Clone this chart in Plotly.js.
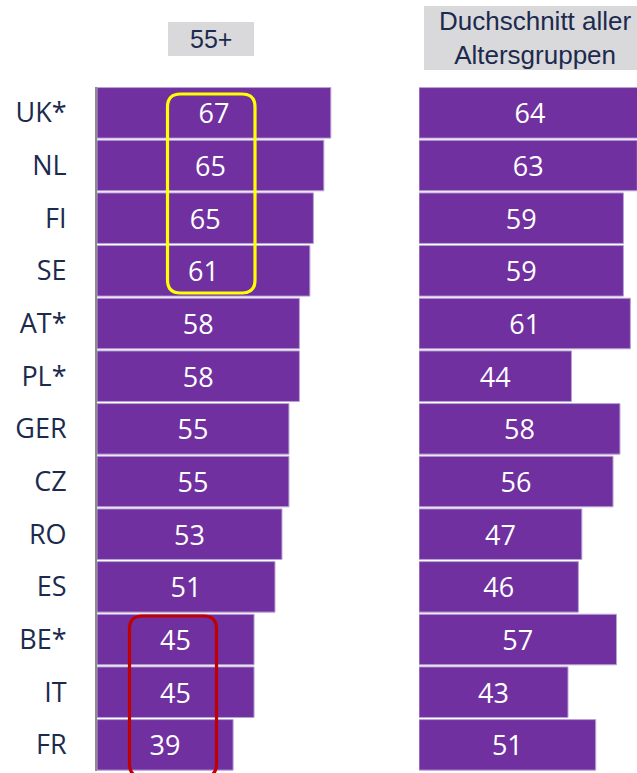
<!DOCTYPE html>
<html>
<head>
<meta charset="utf-8">
<script src="https://cdn.plot.ly/plotly-3.0.1.min.js"></script>
<style>
html, body { margin: 0; padding: 0; background: #ffffff; }
#chart { width: 637px; height: 773px; }
</style>
</head>
<body>
<div id="chart"></div>
<script>
// ---- data ----
const categories = ['UK*', 'NL', 'FI', 'SE', 'AT*', 'PL*', 'GER', 'CZ', 'RO', 'ES', 'BE*', 'IT', 'FR'];
// bar lengths as drawn in the reference (55+)
const values55 = [67, 65, 62, 61, 58, 58, 55, 55, 53, 51, 45, 45, 39];
// value labels printed in the bars (55+)
const labels55 = ['67', '65', '65', '61', '58', '58', '55', '55', '53', '51', '45', '45', '39'];
// average of all age groups
const valuesAll = [64, 63, 59, 59, 61, 44, 58, 56, 47, 46, 57, 43, 51];
const labelsAll = ['64', '63', '59', '59', '61', '44', '58', '56', '47', '46', '57', '43', '51'];
const header55 = '55+';
const headerAll = 'Duchschnitt aller<br>Altersgruppen';

// ---- layout helpers ----
const W = 637, H = 773;
const fx = px => px / W;
const fy = py => 1 - py / H;
function roundRect(x0, y0, x1, y1, r) {
  const P = (x, y) => fx(x) + ',' + fy(y);
  return 'M' + P(x0 + r, y0) + ' L' + P(x1 - r, y0) + ' Q' + P(x1, y0) + ' ' + P(x1, y0 + r) +
    ' L' + P(x1, y1 - r) + ' Q' + P(x1, y1) + ' ' + P(x1 - r, y1) +
    ' L' + P(x0 + r, y1) + ' Q' + P(x0, y1) + ' ' + P(x0, y1 - r) +
    ' L' + P(x0, y0 + r) + ' Q' + P(x0, y0) + ' ' + P(x0 + r, y0) + ' Z';
}

const purple = '#7030A0';
const navy = '#1C2A4E';
const barFont = { family: 'Open Sans, sans-serif', size: 27, color: '#ffffff' };

const trace55 = {
  type: 'bar', orientation: 'h',
  x: values55, y: categories, text: labels55,
  texttemplate: '%{text}',
  textposition: 'inside', insidetextanchor: 'middle', textangle: 0,
  constraintext: 'none',
  insidetextfont: barFont,
  marker: { color: purple, line: { color: '#B9A3D3', width: 1 } },
  xaxis: 'x', yaxis: 'y', hoverinfo: 'skip'
};
const traceAll = {
  type: 'bar', orientation: 'h',
  x: valuesAll, y: categories, text: labelsAll,
  texttemplate: '%{text}',
  textposition: 'inside', insidetextanchor: 'middle', textangle: 0,
  constraintext: 'none',
  insidetextfont: barFont,
  marker: { color: purple, line: { color: '#B9A3D3', width: 1 } },
  xaxis: 'x2', yaxis: 'y', hoverinfo: 'skip'
};

const layout = {
  width: W, height: H,
  margin: { l: 0, r: 0, t: 0, b: 0, pad: 0 },
  paper_bgcolor: '#ffffff', plot_bgcolor: 'rgba(0,0,0,0)',
  showlegend: false,
  bargap: 0.04,
  xaxis: {
    domain: [fx(97), fx(97 + 3.49 * 70)], range: [0, 70],
    visible: false, fixedrange: true
  },
  xaxis2: {
    domain: [fx(419), 1], range: [0, (637 - 419) / 3.465],
    visible: false, fixedrange: true, anchor: 'y'
  },
  yaxis: {
    domain: [fy(771.2), fy(86.5)],
    type: 'category', categoryorder: 'array', categoryarray: categories,
    range: [12.5, -0.5],
    showgrid: false, zeroline: false,
    showline: true, linecolor: '#8C8C8C', linewidth: 2,
    ticks: 'outside', ticklen: 23, tickcolor: 'rgba(0,0,0,0)',
    tickfont: { family: 'Open Sans, sans-serif', size: 27, color: navy },
    automargin: false, fixedrange: true
  },
  shapes: [
    { type: 'rect', xref: 'paper', yref: 'paper', x0: fx(168), x1: fx(254), y0: fy(56), y1: fy(22),
      fillcolor: '#D9D9DB', line: { width: 0 }, layer: 'below' },
    { type: 'rect', xref: 'paper', yref: 'paper', x0: fx(424), x1: fx(650), y0: fy(70), y1: fy(6),
      fillcolor: '#D9D9DB', line: { width: 0 }, layer: 'below' },
    { type: 'path', xref: 'paper', yref: 'paper', path: roundRect(167.5, 94, 255, 293, 13),
      line: { color: '#FFFF00', width: 3.2 }, fillcolor: 'rgba(0,0,0,0)' },
    { type: 'path', xref: 'paper', yref: 'paper', path: roundRect(129.5, 616, 216.5, 777, 13),
      line: { color: '#C00000', width: 3.2 }, fillcolor: 'rgba(0,0,0,0)' }
  ],
  annotations: [
    { xref: 'paper', yref: 'paper', x: fx(211), y: fy(39), xanchor: 'center', yanchor: 'middle',
      text: header55, showarrow: false,
      font: { family: 'Liberation Sans, Arial, sans-serif', size: 25, color: navy } },
    { xref: 'paper', yref: 'paper', x: fx(535), y: fy(38), xanchor: 'center', yanchor: 'middle',
      text: headerAll, showarrow: false,
      font: { family: 'Liberation Sans, Arial, sans-serif', size: 26, color: navy } }
  ]
};

Plotly.newPlot('chart', [trace55, traceAll], layout, { staticPlot: true, displayModeBar: false });
</script>
</body>
</html>
